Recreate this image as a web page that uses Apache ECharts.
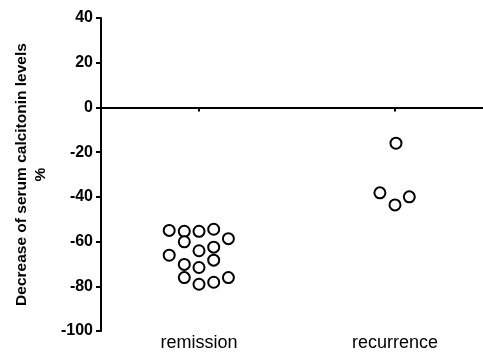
<!DOCTYPE html>
<html>
<head>
<meta charset="utf-8">
<script src="https://cdn.jsdelivr.net/npm/echarts@6/dist/echarts.min.js"></script>
<style>
html,body{margin:0;padding:0;background:#fff;}
#chart{width:483px;height:352px;}
</style>
</head>
<body>
<div id="chart"></div>
<script>
var categories = ['remission', 'recurrence'];
var yTicks = [-100, -80, -60, -40, -20, 0, 20, 40];
var remissionValues = [-55.0, -55.4, -55.4, -54.5, -58.7, -60.1, -64.1, -62.5, -66.1, -70.2, -71.6, -68.3, -76.1, -79.1, -78.2, -76.1];
var remissionJitter = [-0.152, -0.075, 0, 0.075, 0.15, -0.075, 0, 0.075, -0.152, -0.075, 0, 0.075, -0.075, 0, 0.075, 0.15];
var recurrenceValues = [-16.0, -38.2, -43.6, -40.0];
var recurrenceJitter = [0.005, -0.077, 0, 0.073];

function build(pos, vals, jit) {
  return vals.map(function (v, i) { return [pos + jit[i], v]; });
}

var font = 'Liberation Sans, Arial, Helvetica, sans-serif';
var chart = echarts.init(document.getElementById('chart'));
chart.setOption({
  animation: false,
  backgroundColor: '#fff',
  grid: { left: 101, right: 0, top: 18, bottom: 19, containLabel: false },
  xAxis: [{
    type: 'value', min: 0.5, max: 2.449,
    axisLine: { show: true, onZero: true, lineStyle: { color: '#000', width: 2 } },
    axisTick: { show: true, customValues: [1, 2], length: 4, lineStyle: { color: '#000', width: 2 } },
    axisLabel: { show: false },
    splitLine: { show: false }
  }, {
    type: 'value', min: 0.5, max: 2.449, position: 'bottom',
    axisLine: { show: false, onZero: false },
    axisTick: { show: false },
    axisLabel: {
      show: true, customValues: [1, 2], margin: 3,
      color: '#000', fontSize: 18, fontFamily: font,
      formatter: function (v) { return categories[Math.round(v) - 1]; }
    },
    splitLine: { show: false }
  }],
  yAxis: {
    type: 'value', min: -100, max: 40, interval: 20,
    name: 'Decrease of serum calcitonin levels\n%',
    nameLocation: 'middle', nameRotate: 90, nameGap: 51,
    nameTextStyle: { color: '#000', fontSize: 15.5, fontWeight: 'bold', fontFamily: font, lineHeight: 19 },
    axisLine: { show: true, onZero: false, lineStyle: { color: '#000', width: 2 } },
    axisTick: { show: true, length: 5, lineStyle: { color: '#000', width: 2 } },
    axisLabel: { color: '#000', fontSize: 16, fontWeight: 'bold', fontFamily: font, margin: 8,
      customValues: yTicks },
    splitLine: { show: false }
  },
  series: [{
    type: 'scatter', xAxisIndex: 0,
    data: build(1, remissionValues, remissionJitter),
    symbol: 'circle', symbolSize: 11,
    itemStyle: { color: '#fff', borderColor: '#000', borderWidth: 2, opacity: 1 }
  }, {
    type: 'scatter', xAxisIndex: 0,
    data: build(2, recurrenceValues, recurrenceJitter),
    symbol: 'circle', symbolSize: 11,
    itemStyle: { color: '#fff', borderColor: '#000', borderWidth: 2, opacity: 1 }
  }]
});
</script>
</body>
</html>
